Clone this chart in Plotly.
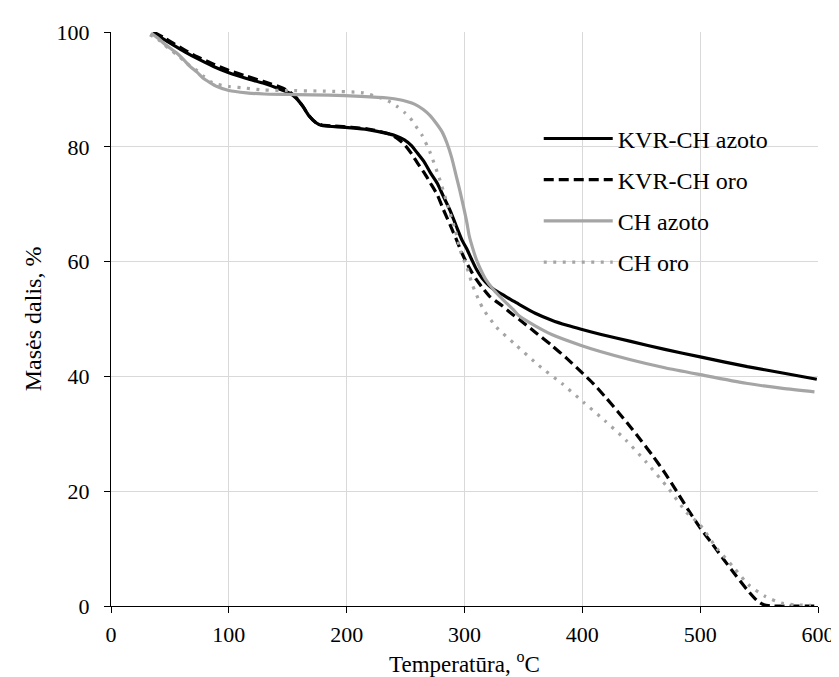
import plotly.graph_objects as go

# ---- data ----
kvr_azoto_T = [36, 45, 53, 63, 73, 87, 100, 115, 129, 145, 152, 157, 163, 168, 174, 179, 190, 204, 218, 235,
               242, 249, 255, 260, 266, 271, 277, 282, 288, 293, 298, 302, 306, 310, 315, 321, 326, 332, 339,
               346, 360, 374, 387, 399, 416, 441, 470, 500, 540, 570, 599]
kvr_azoto_V = [99.9, 98.7, 97.7, 96.5, 95.4, 94.0, 92.9, 91.9, 91.1, 89.9, 89.3, 88.5, 87.0, 85.4, 84.2, 83.7,
               83.5, 83.3, 83.0, 82.3, 81.9, 81.2, 80.2, 78.9, 77.3, 75.5, 73.6, 71.4, 68.8, 66.2, 63.7, 62.2,
               60.4, 58.7, 57.1, 55.8, 55.0, 54.3, 53.4, 52.6, 51.0, 49.8, 48.9, 48.2, 47.3, 46.1, 44.7, 43.4,
               41.7, 40.6, 39.5]

kvr_oro_T = [36, 45, 53, 63, 73, 87, 100, 115, 129, 145, 152, 157, 163, 168, 174, 179, 190, 204, 218, 235,
             242, 249, 255, 260, 266, 271, 277, 282, 288, 293, 298, 302, 306, 310, 315, 321, 326, 332, 339,
             346, 360, 374, 387, 399, 410, 420, 430, 440, 450, 460, 470, 480, 490, 500, 510, 520, 530, 540,
             548, 554, 560, 570, 580, 590, 599]
kvr_oro_V = [100.0, 99.0, 98.0, 96.8, 95.7, 94.4, 93.3, 92.3, 91.4, 90.3, 89.5, 88.6, 87.0, 85.4, 84.2, 83.8,
             83.6, 83.4, 83.1, 82.3, 81.6, 80.4, 78.8, 77.2, 75.4, 73.7, 71.6, 69.1, 66.3, 63.9, 61.4, 59.7,
             58.2, 56.9, 55.5, 54.0, 53.2, 52.3, 51.1, 50.0, 47.7, 45.4, 43.1, 40.8, 38.6, 36.3, 33.9, 31.4,
             28.8, 26.1, 23.2, 20.0, 16.7, 13.6, 10.9, 8.1, 5.4, 2.8, 1.0, 0.2, 0.0, 0.0, 0.0, 0.0, 0.0]

ch_azoto_T = [34, 40, 45, 50, 56, 62, 67, 73, 78, 84, 90, 100, 115, 130, 157, 185, 212, 235, 245, 251, 258,
              265, 271, 276, 281, 285, 289, 293, 296, 299, 302, 304, 307, 310, 314, 318, 325, 332, 341, 346,
              360, 374, 399, 416, 441, 470, 500, 539, 570, 597]
ch_azoto_V = [99.8, 98.9, 98.0, 97.2, 96.3, 95.1, 94.0, 93.0, 92.0, 91.2, 90.5, 89.8, 89.4, 89.2, 89.1, 89.0,
              88.8, 88.5, 88.2, 87.9, 87.4, 86.5, 85.4, 84.1, 82.6, 80.7, 78.2, 74.9, 72.4, 69.7, 66.8, 64.5,
              62.3, 60.4, 58.5, 56.9, 55.0, 53.5, 51.7, 50.6, 48.8, 47.3, 45.4, 44.3, 42.9, 41.5, 40.3, 38.8,
              37.9, 37.3]

ch_oro_T = [33, 40, 45, 50, 56, 62, 67, 73, 78, 84, 90, 100, 115, 129, 148, 180, 214, 229, 236, 243, 249,
            254, 259, 264, 271, 279, 285, 292, 297, 302, 307, 313, 316, 327, 344, 363, 383, 401, 419, 437,
            454, 473, 488, 500, 514, 529, 541, 555, 569, 580, 594]
ch_oro_V = [99.5, 98.7, 97.8, 97.0, 96.0, 95.0, 94.1, 93.3, 92.4, 91.4, 90.9, 90.5, 90.2, 89.9, 89.8, 89.7,
            89.4, 88.5, 87.9, 87.0, 86.0, 85.0, 83.5, 82.0, 78.9, 74.3, 70.3, 65.6, 61.6, 59.0, 55.8, 52.9,
            51.7, 48.6, 45.4, 41.9, 38.7, 35.5, 32.3, 28.9, 25.1, 20.5, 16.4, 14.1, 10.1, 6.6, 3.7, 1.7,
            0.5, 0.2, 0.1]

series_names = ["KVR-CH azoto", "KVR-CH oro", "CH azoto", "CH oro"]
x_ticks = [0, 100, 200, 300, 400, 500, 600]
y_ticks = [0, 20, 40, 60, 80, 100]
x_title = "Temperatūra, <sup>o</sup>C"
y_title = "Masės dalis, %"

FONT = "Liberation Serif"
BLACK = "#000000"
GRAY = "#A5A5A5"

fig = go.Figure()
styles = [
    (kvr_azoto_T, kvr_azoto_V, BLACK, "solid"),
    (kvr_oro_T, kvr_oro_V, BLACK, "10px,5px"),
    (ch_azoto_T, ch_azoto_V, GRAY, "solid"),
    (ch_oro_T, ch_oro_V, GRAY, "3px,6.5px"),
]
for name, (xs, ys, col, dash) in zip(series_names, styles):
    fig.add_trace(go.Scatter(
        x=xs, y=ys, mode="lines", name=name, legendgroup=name,
        line=dict(color=col, width=3.2, dash=dash, shape="spline", smoothing=0.6),
    ))

axis_common = dict(
    showgrid=True, gridcolor="#D9D9D9", gridwidth=1,
    showline=True, linecolor=BLACK, linewidth=1.2,
    ticks="outside", ticklen=6, tickcolor=BLACK, tickwidth=1.2,
    zeroline=False, mirror=False,
    tickfont=dict(family=FONT, size=22, color=BLACK),
)

fig.update_layout(
    width=839, height=677,
    margin=dict(l=103, r=19, t=22, b=79),
    paper_bgcolor="white", plot_bgcolor="white",
    font=dict(family=FONT, color=BLACK),
    xaxis=dict(range=[0, 600], tickvals=x_ticks, ticktext=[str(v) for v in x_ticks],
               ticklabelstandoff=2, **axis_common),
    yaxis=dict(range=[0, 100], tickvals=y_ticks, ticktext=[str(v) for v in y_ticks],
               ticklabelstandoff=10, **axis_common),
    legend=dict(
        x=0.605, y=0.853, xanchor="left", yanchor="top",
        bgcolor="rgba(0,0,0,0)", borderwidth=0,
        font=dict(family=FONT, size=24, color=BLACK),
        itemwidth=69, tracegroupgap=7,
    ),
    showlegend=True,
    annotations=[
        dict(text=x_title, xref="paper", yref="paper", x=0.5, y=-0.127,
             xanchor="center", yanchor="bottom", showarrow=False,
             font=dict(family=FONT, size=23, color=BLACK)),
        dict(text=y_title, xref="paper", yref="paper", x=-0.110, y=0.5,
             xanchor="center", yanchor="middle", textangle=-90, showarrow=False,
             font=dict(family=FONT, size=24, color=BLACK)),
    ],
)

fig.write_html("out.html")
